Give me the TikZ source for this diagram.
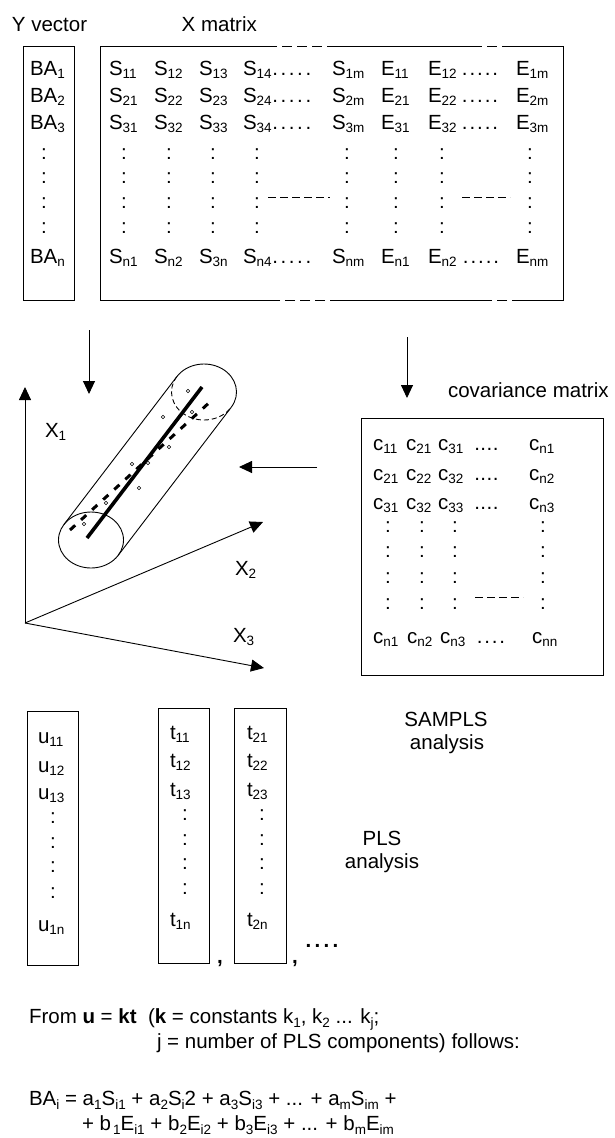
\documentclass[tikz,border=0pt]{standalone}
\usepackage{fontspec}
\setmainfont{Liberation Sans}
\usetikzlibrary{arrows.meta,calc}
\newcommand\fs{\fontsize{20.5}{24}\selectfont}
\newcommand\sbs[1]{\raisebox{-3.5pt}{\fontsize{13.5}{14}\selectfont #1}}
\newcommand\fsb[1]{\raisebox{-4.5pt}{\fontsize{13.5}{14}\selectfont #1}}
\newcommand\dfive[1]{\makebox[#1]{.}\makebox[#1]{.}\makebox[#1]{.}\makebox[#1]{.}\makebox[#1]{.}}
\newcommand\dfour[1]{\makebox[#1]{.}\makebox[#1]{.}\makebox[#1]{.}\makebox[#1]{.}}
\tikzset{
  txt/.style={inner sep=0pt, outer sep=0pt, anchor=base west, font=\fs},
  ctxt/.style={inner sep=0pt, outer sep=0pt, anchor=base, font=\fs},
  col/.style={inner sep=0pt, outer sep=0pt, anchor=center, font=\fs},
  box/.style={draw, line width=0.9pt, inner sep=0pt, outer sep=0pt},
  frame/.style={line width=0.9pt},
  gap/.style={line width=0.9pt, dash pattern=on 10pt off 5pt, dash phase=10pt},
  inner dash/.style={line width=0.9pt, dash pattern=on 8pt off 4pt},
  arr/.style={line width=0.9pt, -{Triangle[length=13pt,width=12pt]}},
  pt/.style={line width=0.6pt},
}
\begin{document}
\begin{tikzpicture}[x=1pt,y=-1pt]
\useasboundingbox (0,0) rectangle (614,1138);

% ---------- titles ----------
\node[txt] (ylab) at (12,31.7) {Y vector};
\node[txt] (xlab) at (181.7,31.7) {X matrix};

% ---------- Y vector ----------
\node[box, minimum width=51pt, minimum height=254pt] (ybox) at (48.5,173) {};
\node[txt] (ba1) at (30,75) {BA\sbs{1}};
\node[txt] (ba2) at (30,102) {BA\sbs{2}};
\node[txt] (ba3) at (30,129) {BA\sbs{3}};
\foreach \y [count=\k] in {154,178,203,228} \node[col] (yc\k) at (44,\y) {:};
\node[txt] (ban) at (30,263) {BA\sbs{n}};

% ---------- X matrix frame ----------
\coordinate (xa) at (100,46);  \coordinate (xb) at (100,300);
\coordinate (xc) at (563,46);  \coordinate (xd) at (563,300);
\coordinate (t1) at (277,46);  \coordinate (t2) at (330,46);
\coordinate (t3) at (482,46);  \coordinate (t4) at (512,46);
\coordinate (b1) at (277,300); \coordinate (b2) at (330,300);
\coordinate (b3) at (482,300); \coordinate (b4) at (512,300);
\draw[frame] (t1) -- (xa) -- (xb) -- (b1);
\draw[gap] (t1) -- (t2);
\draw[frame] (t2) -- (t3);
\draw[gap] (t3) -- (t4);
\draw[frame] (t4) -- (xc) -- (xd) -- (b4);
\draw[gap] (b4) -- (b3);
\draw[frame] (b3) -- (b2);
\draw[gap] (b2) -- (b1);
\coordinate (d1a) at (268,197); \coordinate (d1b) at (330,197);
\coordinate (d2a) at (462,197); \coordinate (d2b) at (510,197);
\draw[inner dash] (d1a) -- (d1b);
\draw[inner dash] (d2a) -- (d2b);

% ---------- X matrix entries ----------
\foreach \r/\y in {1/75,2/102,3/129}{
  \node[txt] (s\r a) at (109,\y) {S\sbs{\r1}};
  \node[txt] (s\r b) at (154,\y) {S\sbs{\r2}};
  \node[txt] (s\r c) at (199,\y) {S\sbs{\r3}};
  \node[txt] (s\r d) at (243,\y) {S\sbs{\r4}};
  \node[txt] (sd\r) at (271,\y) {\dfive{8.3pt}};
  \node[txt] (s\r m) at (332,\y) {S\sbs{\r m}};
  \node[txt] (e\r a) at (381,\y) {E\sbs{\r1}};
  \node[txt] (e\r b) at (428,\y) {E\sbs{\r2}};
  \node[txt] (ed\r) at (461,\y) {\dfive{7.6pt}};
  \node[txt] (e\r m) at (516,\y) {E\sbs{\r m}};
}
\node[txt] (sna) at (109,263) {S\sbs{n1}};
\node[txt] (snb) at (154,263) {S\sbs{n2}};
\node[txt] (snc) at (199,263) {S\sbs{3n}};
\node[txt] (snd) at (243,263) {S\sbs{n4}};
\node[txt] (sdn) at (271,263) {\dfive{8.3pt}};
\node[txt] (snm) at (332,263) {S\sbs{nm}};
\node[txt] (ena) at (381,263) {E\sbs{n1}};
\node[txt] (enb) at (428,263) {E\sbs{n2}};
\node[txt] (edn) at (462,263) {\dfive{7.6pt}};
\node[txt] (enm) at (516,263) {E\sbs{nm}};
\foreach \x [count=\i] in {124,169,213,257,347,396,442,530}
  \foreach \y [count=\j] in {154,178,203,228}
    \node[col] (xc\i-\j) at (\x,\y) {:};

% ---------- arrows ----------
\coordinate (a1s) at (89,330);  \coordinate (a1e) at (89,394);
\coordinate (a2s) at (407,337); \coordinate (a2e) at (407,398);
\coordinate (a3s) at (317,467); \coordinate (a3e) at (239,467);
\draw[arr] (a1s) -- (a1e);
\draw[arr] (a2s) -- (a2e);
\draw[arr] (a3s) -- (a3e);

% ---------- axes ----------
\coordinate (o) at (25,623);
\coordinate (x1) at (25,387);
\coordinate (x2) at (263,522);
\coordinate (x3) at (264,668);
\draw[arr] (o) -- (x1);
\draw[arr] (o) -- (x2);
\draw[arr] (o) -- (x3);
\node[txt] (lx1) at (45,437) {X\sbs{1}};
\node[txt] (lx2) at (235,575) {X\sbs{2}};
\node[txt] (lx3) at (233,642) {X\sbs{3}};

% ---------- cylinder ----------
\coordinate (cb) at (91,540);
\coordinate (ct) at (204,392);
\draw[frame] (cb) ellipse [x radius=32.5pt, y radius=28pt];
\draw[frame] ($(cb)+(-27.15pt,15.39pt)$) -- ($(ct)+(-27.15pt,15.39pt)$);
\draw[frame] ($(cb)+(27.15pt,-15.39pt)$) -- ($(ct)+(27.15pt,-15.39pt)$);
\draw[frame] ($(ct)+(27.15pt,-15.39pt)$) arc[start angle=-33.34, end angle=146.66, x radius=32.5pt, y radius=28pt];
\draw[line width=0.9pt, dash pattern=on 5pt off 3pt] ($(ct)+(-27.15pt,15.39pt)$) arc[start angle=146.66, end angle=326.66, x radius=32.5pt, y radius=28pt];
\coordinate (dla) at (70,530); \coordinate (dlb) at (211,401);
\draw[line width=3pt, dash pattern=on 7pt off 8pt] (dla) -- (dlb);
\coordinate (sla) at (87,538); \coordinate (slb) at (202,387);
\draw[line width=3.6pt] (sla) -- (slb);
\foreach \x/\y [count=\k] in {188/391,192/412,163/417,169/447,132/464,148/463,139/488,106/503,84/524}
  \draw[pt, fill=white] (\x,\y) circle[radius=1.8pt] coordinate (p\k);

% ---------- covariance matrix ----------
\node[txt] (covlab) at (448,397) {covariance matrix};
\node[box, minimum width=242pt, minimum height=257pt] (cbox) at (482,546.5) {};
\foreach \r/\y/\ca/\cb/\cc in {1/450/11/21/31, 2/480/21/22/32, 3/509/31/32/33}{
  \node[txt] (c\r a) at (373,\y) {c\sbs{\ca}};
  \node[txt] (c\r b) at (406,\y) {c\sbs{\cb}};
  \node[txt] (c\r c) at (438,\y) {c\sbs{\cc}};
  \node[txt] (cd\r) at (474,\y) {\dfour{6.2pt}};
  \node[txt] (c\r n) at (529,\y) {c\sbs{n\r}};
}
\node[txt] (cna) at (373,643) {c\sbs{n1}};
\node[txt] (cnb) at (407,643) {c\sbs{n2}};
\node[txt] (cnc) at (440,643) {c\sbs{n3}};
\node[txt] (cdn) at (476,643) {\dfour{7.5pt}};
\node[txt] (cnn) at (532,643) {c\sbs{nn}};
\foreach \x [count=\i] in {388,422,455,543}
  \foreach \y [count=\j] in {527,552,578,604}
    \node[col] (cc\i-\j) at (\x,\y) {:};
\coordinate (cda) at (475,597); \coordinate (cdb) at (523,597);
\draw[inner dash] (cda) -- (cdb);

% ---------- u and t vectors ----------
\node[box, minimum width=51pt, minimum height=254pt] (ubox) at (52.5,838) {};
\node[box, minimum width=51pt, minimum height=255pt] (t1box) at (183.5,835.5) {};
\node[box, minimum width=52pt, minimum height=255pt] (t2box) at (260,835.5) {};
\foreach \y/\s [count=\k] in {743/11,772/12,799/13} \node[txt] (u\k) at (38,\y) {u\sbs{\s}};
\foreach \y [count=\k] in {818,843,867,893} \node[col] (uc\k) at (53,\y) {:};
\node[txt] (un) at (38,931) {u\sbs{1n}};
\foreach \y/\s [count=\k] in {739/1,767/2,796/3}{
  \node[txt] (ta\k) at (170,\y) {t\sbs{1\s}};
  \node[txt] (tb\k) at (247,\y) {t\sbs{2\s}};
}
\foreach \y [count=\k] in {815,840,864,889}{
  \node[col] (tac\k) at (185,\y) {:};
  \node[col] (tbc\k) at (262,\y) {:};
}
\node[txt] (tan) at (170,926) {t\sbs{1n}};
\node[txt] (tbn) at (247,926) {t\sbs{2n}};
\node[txt] (cm1) at (217,963) {\textbf{,}};
\node[txt] (cm2) at (292,963) {\textbf{,}};
\node[txt] (more) at (304,947) {\textbf{\dfour{9pt}}};

% ---------- analysis labels ----------
\node[ctxt] (samp1) at (446,726) {SAMPLS};
\node[ctxt] (samp2) at (447,749) {analysis};
\node[ctxt] (pls1) at (382,845) {PLS};
\node[ctxt] (pls2) at (382,868) {analysis};

% ---------- formula ----------
\node[txt] (f1) at (29,1023) {From \textbf{u} = \textbf{kt}\ \ (\textbf{k} = constants k\fsb{1}, k\fsb{2} ... k\fsb{j};};
\node[txt] (f2) at (157,1048) {j = number of PLS components) follows:};
\node[txt] (f3) at (29,1105) {BA\fsb{i} = a\fsb{1}S\fsb{i1} + a\fsb{2}S\fsb{i}2 + a\fsb{3}S\fsb{i3} + ... + a\fsb{m}S\fsb{im} +};
\node[txt] (f4) at (82,1130) {+ b\kern2pt\fsb{1}E\fsb{i1} + b\fsb{2}E\fsb{i2} + b\fsb{3}E\fsb{i3} + ... + b\fsb{m}E\fsb{im}};
\end{tikzpicture}
\end{document}
